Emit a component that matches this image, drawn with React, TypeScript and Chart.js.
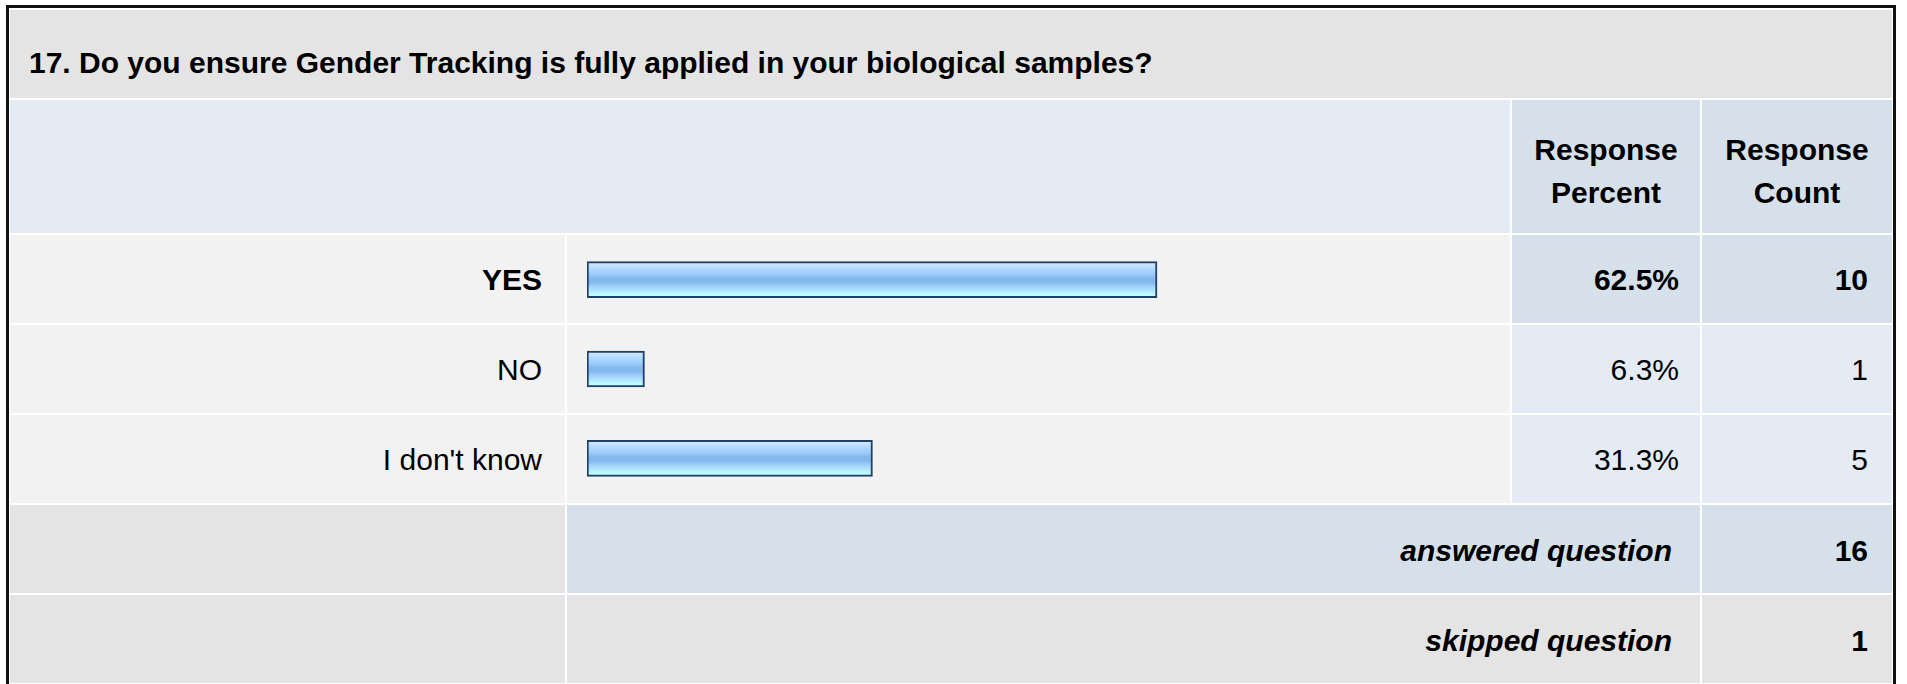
import React, { useEffect, useRef } from "react";
import { Chart, registerables } from "chart.js";

Chart.register(...registerables);

// ---- data ----
const QUESTION = "17. Do you ensure Gender Tracking is fully applied in your biological samples?";
const CATEGORIES = ["YES", "NO", "I don't know"];
const PERCENTS = [62.5, 6.3, 31.3];
const COUNTS = [10, 1, 5];
const HEADER_PERCENT = ["Response", "Percent"];
const HEADER_COUNT = ["Response", "Count"];
const ANSWERED_LABEL = "answered question";
const ANSWERED = 16;
const SKIPPED_LABEL = "skipped question";
const SKIPPED = 1;
const AXIS_MAX = 100;

// ---- styles / layout ----
const FONT = '"Liberation Sans", Arial, Helvetica, sans-serif';
const C = {
  frame: "#111111",
  gray: "#e4e4e4",
  light: "#f2f2f2",
  headBlue: "#e4ebf5",
  darkBlue: "#d5e0ea",
  barBorder: "#1f4068",
  text: "#000000",
};
const COLX = { a: [10, 565], b: [567, 1510], c: [1512, 1700], d: [1702, 1892] };
const ROWY = {
  title: [10, 98],
  header: [100, 233],
  rows: [
    [235, 323],
    [325, 413],
    [415, 503],
  ],
  ans: [505, 593],
  skip: [595, 683],
};
const BAR_THICK = 36;

type CellProps = {
  x0: number;
  x1: number;
  y0: number;
  y1: number;
  bg: string;
  align?: "left" | "right" | "center";
  pad?: number;
  padTop?: number;
  bold?: boolean;
  italic?: boolean;
  lineHeight?: number;
  children?: React.ReactNode;
};

function Cell({ x0, x1, y0, y1, bg, align = "left", pad = 0, padTop = 0, bold, italic, lineHeight, children }: CellProps) {
  return (
    <div
      style={{
        position: "absolute",
        left: x0,
        top: y0,
        width: x1 - x0,
        height: y1 - y0,
        background: bg,
        display: "flex",
        alignItems: "center",
        justifyContent: align === "left" ? "flex-start" : align === "right" ? "flex-end" : "center",
        textAlign: align,
        paddingLeft: align === "left" ? pad : 0,
        paddingRight: align === "right" ? pad : 0,
        paddingTop: padTop,
        boxSizing: "border-box",
        fontFamily: FONT,
        fontSize: 30,
        fontWeight: bold ? "bold" : "normal",
        fontStyle: italic ? "italic" : "normal",
        lineHeight: lineHeight ? `${lineHeight}px` : "normal",
        color: C.text,
        whiteSpace: "nowrap",
      }}
    >
      <div>{children}</div>
    </div>
  );
}

function barFill(ctx: any) {
  const ch = ctx.chart;
  const ys = ch && ch.scales && ch.scales.y;
  if (!ys || typeof ctx.dataIndex !== "number") return "#9cc8f8";
  const cy = ys.getPixelForValue(ctx.dataIndex);
  if (!isFinite(cy)) return "#9cc8f8";
  const h = BAR_THICK / 2;
  const g = ch.ctx.createLinearGradient(0, cy - h, 0, cy + h);
  g.addColorStop(0.0, "#d9eeff");
  g.addColorStop(0.1, "#c4e3ff");
  g.addColorStop(0.22, "#acd7ff");
  g.addColorStop(0.36, "#9dcbf9");
  g.addColorStop(0.45, "#84b9ee");
  g.addColorStop(0.58, "#84b9ee");
  g.addColorStop(0.68, "#a0cffa");
  g.addColorStop(0.8, "#b0e4ff");
  g.addColorStop(0.9, "#bdfbff");
  g.addColorStop(1.0, "#c2ffff");
  return g;
}

function BarChart() {
  const ref = useRef<HTMLCanvasElement | null>(null);
  useEffect(() => {
    const canvas = ref.current!;
    const chart = new Chart(canvas, {
      type: "bar",
      data: {
        labels: CATEGORIES,
        datasets: [
          {
            data: PERCENTS,
            backgroundColor: barFill,
            borderColor: C.barBorder,
            borderWidth: 2,
            borderSkipped: false,
            barThickness: BAR_THICK,
          } as any,
        ],
      },
      options: {
        indexAxis: "y",
        responsive: false,
        maintainAspectRatio: false,
        animation: false,
        events: [],
        layout: { padding: { left: 20, right: 11, top: 0, bottom: 0 } },
        scales: {
          x: { display: false, min: 0, max: AXIS_MAX, grid: { display: false } },
          y: { display: false, grid: { display: false } },
        },
        plugins: { legend: { display: false }, tooltip: { enabled: false } },
      } as any,
    });
    chart.update();
    return () => chart.destroy();
  }, []);
  const w = COLX.b[1] - COLX.b[0];
  const h = ROWY.rows[2][1] - ROWY.rows[0][0];
  return (
    <canvas
      ref={ref}
      width={w}
      height={h}
      style={{ position: "absolute", left: COLX.b[0], top: ROWY.rows[0][0], width: w, height: h, pointerEvents: "none" }}
    />
  );
}

export default function App() {
  const maxIdx = COUNTS.indexOf(Math.max(...COUNTS));
  return (
    <div style={{ position: "absolute", left: 0, top: 0, width: 1907, height: 684, overflow: "hidden", background: "#fff" }}>
      <div
        style={{
          position: "absolute",
          left: 6,
          top: 5,
          width: 1890,
          height: 720,
          border: `3px solid ${C.frame}`,
          boxSizing: "border-box",
          background: "#fff",
        }}
      />
      <Cell x0={COLX.a[0]} x1={COLX.d[1]} y0={ROWY.title[0]} y1={ROWY.title[1]} bg={C.gray} pad={19} padTop={18} bold>
        {QUESTION}
      </Cell>
      <Cell x0={COLX.a[0]} x1={COLX.b[1]} y0={ROWY.header[0]} y1={ROWY.header[1]} bg={C.headBlue} />
      <Cell x0={COLX.c[0]} x1={COLX.c[1]} y0={ROWY.header[0]} y1={ROWY.header[1]} bg={C.darkBlue} align="center" padTop={8} bold lineHeight={43}>
        {HEADER_PERCENT[0]}
        <br />
        {HEADER_PERCENT[1]}
      </Cell>
      <Cell x0={COLX.d[0]} x1={COLX.d[1]} y0={ROWY.header[0]} y1={ROWY.header[1]} bg={C.darkBlue} align="center" padTop={8} bold lineHeight={43}>
        {HEADER_COUNT[0]}
        <br />
        {HEADER_COUNT[1]}
      </Cell>
      {CATEGORIES.map((cat, i) => {
        const [y0, y1] = ROWY.rows[i];
        const hi = i === maxIdx;
        const side = hi ? C.darkBlue : C.headBlue;
        return (
          <React.Fragment key={cat}>
            <Cell x0={COLX.a[0]} x1={COLX.a[1]} y0={y0} y1={y1} bg={C.light} align="right" pad={23} padTop={2} bold={hi}>
              {cat}
            </Cell>
            <Cell x0={COLX.b[0]} x1={COLX.b[1]} y0={y0} y1={y1} bg={C.light} />
            <Cell x0={COLX.c[0]} x1={COLX.c[1]} y0={y0} y1={y1} bg={side} align="right" pad={21} padTop={2} bold={hi}>
              {PERCENTS[i].toFixed(1) + "%"}
            </Cell>
            <Cell x0={COLX.d[0]} x1={COLX.d[1]} y0={y0} y1={y1} bg={side} align="right" pad={24} padTop={2} bold={hi}>
              {COUNTS[i]}
            </Cell>
          </React.Fragment>
        );
      })}
      <BarChart />
      <Cell x0={COLX.a[0]} x1={COLX.a[1]} y0={ROWY.ans[0]} y1={ROWY.ans[1]} bg={C.gray} />
      <Cell x0={COLX.b[0]} x1={COLX.c[1]} y0={ROWY.ans[0]} y1={ROWY.ans[1]} bg={C.darkBlue} align="right" pad={28} padTop={4} bold italic>
        {ANSWERED_LABEL}
      </Cell>
      <Cell x0={COLX.d[0]} x1={COLX.d[1]} y0={ROWY.ans[0]} y1={ROWY.ans[1]} bg={C.darkBlue} align="right" pad={24} padTop={4} bold>
        {ANSWERED}
      </Cell>
      <Cell x0={COLX.a[0]} x1={COLX.a[1]} y0={ROWY.skip[0]} y1={ROWY.skip[1]} bg={C.gray} />
      <Cell x0={COLX.b[0]} x1={COLX.c[1]} y0={ROWY.skip[0]} y1={ROWY.skip[1]} bg={C.gray} align="right" pad={28} padTop={4} bold italic>
        {SKIPPED_LABEL}
      </Cell>
      <Cell x0={COLX.d[0]} x1={COLX.d[1]} y0={ROWY.skip[0]} y1={ROWY.skip[1]} bg={C.gray} align="right" pad={24} padTop={4} bold>
        {SKIPPED}
      </Cell>
    </div>
  );
}
